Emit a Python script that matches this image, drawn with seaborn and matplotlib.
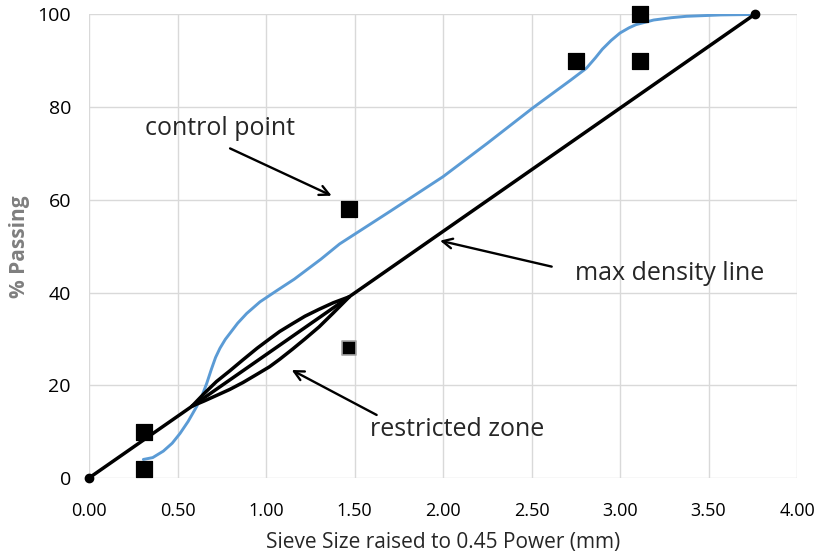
import matplotlib
matplotlib.use("Agg")
import matplotlib.pyplot as plt
import seaborn as sns
import pandas as pd

# max density line (0.45 power), 19 mm max size
md_x = [0.0, 3.76]
md_y = [0.0, 100.0]

# control points
cp_x = [0.312, 0.312, 1.471, 2.754, 3.115, 3.115]
cp_y = [2, 10, 58, 90, 90, 100]
# the lower 2.36 control point is drawn lighter
cp_low_x = [1.471]
cp_low_y = [28]

# restricted zone
rz_upper_x = [0.582, 0.65, 0.72, 0.795, 0.87, 0.95, 1.02, 1.077, 1.15, 1.22, 1.3, 1.38, 1.471]
rz_upper_y = [15.5, 18.2, 20.8, 23.1, 25.5, 28.0, 30.0, 31.6, 33.3, 34.9, 36.4, 37.8, 39.1]
rz_lower_x = [0.582, 0.65, 0.72, 0.795, 0.87, 0.95, 1.02, 1.077, 1.15, 1.22, 1.3, 1.38, 1.471]
rz_lower_y = [15.5, 16.6, 17.8, 19.1, 20.6, 22.4, 24.0, 25.6, 27.8, 30.0, 32.6, 35.6, 39.1]

# gradation curve (blue)
grad_x = [0.307, 0.36, 0.42, 0.47, 0.514, 0.56, 0.608, 0.64, 0.665, 0.69, 0.715, 0.74, 0.77,
          0.80, 0.84, 0.891, 0.966, 1.06, 1.16, 1.31, 1.416, 1.7, 2.0, 2.25, 2.506, 2.62,
          2.72, 2.81, 2.86, 2.90, 2.95, 3.0, 3.05, 3.09, 3.19, 3.29, 3.375, 3.57, 3.76]
grad_y = [4.0, 4.4, 5.8, 7.5, 9.6, 12.2, 15.4, 17.9, 20.4, 23.3, 26.0, 28.0, 29.9,
          31.4, 33.4, 35.5, 38.0, 40.4, 42.9, 47.2, 50.5, 57.5, 65.0, 72.2, 79.8, 83.0,
          85.8, 88.4, 90.6, 92.5, 94.4, 96.0, 97.1, 97.8, 98.8, 99.3, 99.6, 99.9, 100.0]

sns.set_style("white")
plt.rcParams['font.family'] = ['Open Sans', 'DejaVu Sans']

fig, ax = plt.subplots(figsize=(8.21, 5.56), dpi=100)
fig.subplots_adjust(left=0.1084, right=0.9708, top=0.974, bottom=0.1403)

grad = pd.DataFrame({'x': grad_x, 'y': grad_y})
sns.lineplot(data=grad, x='x', y='y', sort=False, color='#5b9bd5', linewidth=2.1, ax=ax,
             zorder=3, solid_joinstyle='round', solid_capstyle='round')

sns.lineplot(x=rz_upper_x, y=rz_upper_y, sort=False, color='black', linewidth=2.5, ax=ax,
             zorder=4, solid_joinstyle='round')
sns.lineplot(x=rz_lower_x, y=rz_lower_y, sort=False, color='black', linewidth=2.5, ax=ax,
             zorder=4, solid_joinstyle='round')

ax.plot(md_x, md_y, color='black', linewidth=2.5, marker='o', markersize=6, zorder=5,
        clip_on=False)

sns.scatterplot(x=cp_x, y=cp_y, marker='s', s=120, color='black', edgecolor='black', ax=ax,
                zorder=6, clip_on=False)
sns.scatterplot(x=cp_low_x, y=cp_low_y, marker='s', s=95, color='black', edgecolor='#a6a6a6',
                linewidth=1.2, ax=ax, zorder=6)

ax.set_xlim(0, 4)
ax.set_ylim(0, 100)
ax.set_xticks([0, 0.5, 1, 1.5, 2, 2.5, 3, 3.5, 4])
ax.set_xticklabels(['%.2f' % v for v in [0, 0.5, 1, 1.5, 2, 2.5, 3, 3.5, 4]])
ax.set_yticks([0, 20, 40, 60, 80, 100])
ax.grid(True, color='#d9d9d9', linewidth=1)
for s in ax.spines.values():
    s.set_visible(False)
ax.tick_params(axis='x', length=0, pad=17, labelsize=13, colors='black')
ax.tick_params(axis='y', length=0, pad=13, labelsize=14, colors='black')

ax.set_xlabel('Sieve Size raised to 0.45 Power (mm)', fontsize=15, labelpad=9)
ax.set_ylabel('% Passing', fontsize=15, fontweight='bold', color='#7f7f7f', labelpad=5)

arrow = dict(arrowstyle='->, head_length=0.7, head_width=0.35', color='black', lw=1.7,
             shrinkA=0, shrinkB=0)
ax.annotate('', xy=(1.371, 60.9), xytext=(0.797, 71.1), arrowprops=arrow)
ax.annotate('', xy=(1.983, 51.2), xytext=(2.614, 45.6), arrowprops=arrow)
ax.annotate('', xy=(1.145, 23.3), xytext=(1.625, 13.6), arrowprops=arrow)

ax.text(0.316, 75.4, 'control point', fontsize=18, ha='left', va='center')
ax.text(2.746, 44.2, 'max density line', fontsize=18, ha='left', va='center')
ax.text(1.588, 10.4, 'restricted zone', fontsize=18, ha='left', va='center')

plt.savefig('out.png', dpi=100)
